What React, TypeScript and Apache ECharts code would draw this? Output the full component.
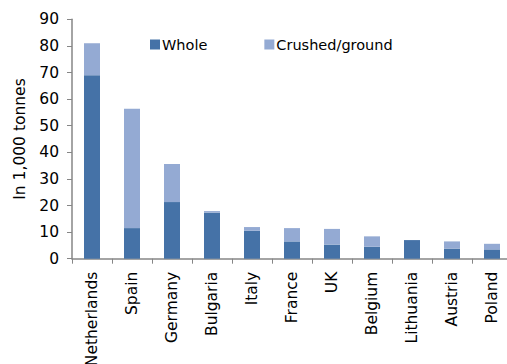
import React, { useEffect, useRef } from "react";
import * as echarts from "echarts";

const countries = [
  "Netherlands", "Spain", "Germany", "Bulgaria", "Italy", "France",
  "UK", "Belgium", "Lithuania", "Austria", "Poland",
];
const whole = [69, 11.5, 21.3, 17.3, 10.5, 6.5, 5.3, 4.5, 7.0, 3.8, 3.5];
const crushedGround = [12, 44.9, 14.3, 0.6, 1.4, 5.0, 5.9, 3.9, 0, 2.7, 2.1];
const yTicks = { min: 0, max: 90, interval: 10 };

const FONT = "DejaVu Sans, Verdana, sans-serif";
const AXIS_GREY = "#868686";

export default function App() {
  const ref = useRef<HTMLDivElement>(null);

  useEffect(() => {
    if (!ref.current) return;
    const chart = echarts.init(ref.current, undefined, { renderer: "svg" });
    chart.setOption({
      animation: false,
      backgroundColor: "#ffffff",
      textStyle: { fontFamily: FONT },
      grid: {
        left: 72,
        top: 19.3,
        width: 440,
        height: 239.4,
        containLabel: false,
        outerBoundsMode: "none",
      },
      legend: {
        left: 150,
        top: 37,
        padding: 0,
        itemWidth: 10,
        itemHeight: 10,
        itemGap: 57,
        icon: "rect",
        textStyle: { fontFamily: FONT, fontSize: 14.5, color: "#000", padding: [0, 0, 0, -3] },
        data: ["Whole", "Crushed/ground"],
      },
      xAxis: {
        type: "category",
        data: countries,
        axisLine: { lineStyle: { color: AXIS_GREY, width: 1.5 } },
        axisTick: { show: true, length: 5, lineStyle: { color: AXIS_GREY } },
        axisLabel: {
          interval: 0,
          rotate: 90,
          margin: 13,
          fontFamily: FONT,
          fontSize: 15.5,
          color: "#000",
        },
      },
      yAxis: {
        type: "value",
        min: yTicks.min,
        max: yTicks.max,
        interval: yTicks.interval,
        name: "In 1,000 tonnes",
        nameLocation: "middle",
        nameRotate: 90,
        nameGap: 44,
        nameTextStyle: { fontFamily: FONT, fontSize: 15.5, color: "#000" },
        splitLine: { show: false },
        axisLine: { show: true, lineStyle: { color: AXIS_GREY, width: 1.5 } },
        axisTick: { show: true, length: 5, lineStyle: { color: AXIS_GREY } },
        axisLabel: { margin: 13, fontFamily: FONT, fontSize: 15.5, color: "#000" },
      },
      series: [
        {
          name: "Whole",
          type: "bar",
          stack: "total",
          data: whole,
          barWidth: "40%",
          itemStyle: { color: "#4572A7" },
        },
        {
          name: "Crushed/ground",
          type: "bar",
          stack: "total",
          data: crushedGround,
          barWidth: "40%",
          itemStyle: { color: "#94AAD3" },
        },
      ],
    });
    return () => chart.dispose();
  }, []);

  return (
    <div
      ref={ref}
      style={{ position: "fixed", left: 0, top: 0, width: 507, height: 364 }}
    />
  );
}
